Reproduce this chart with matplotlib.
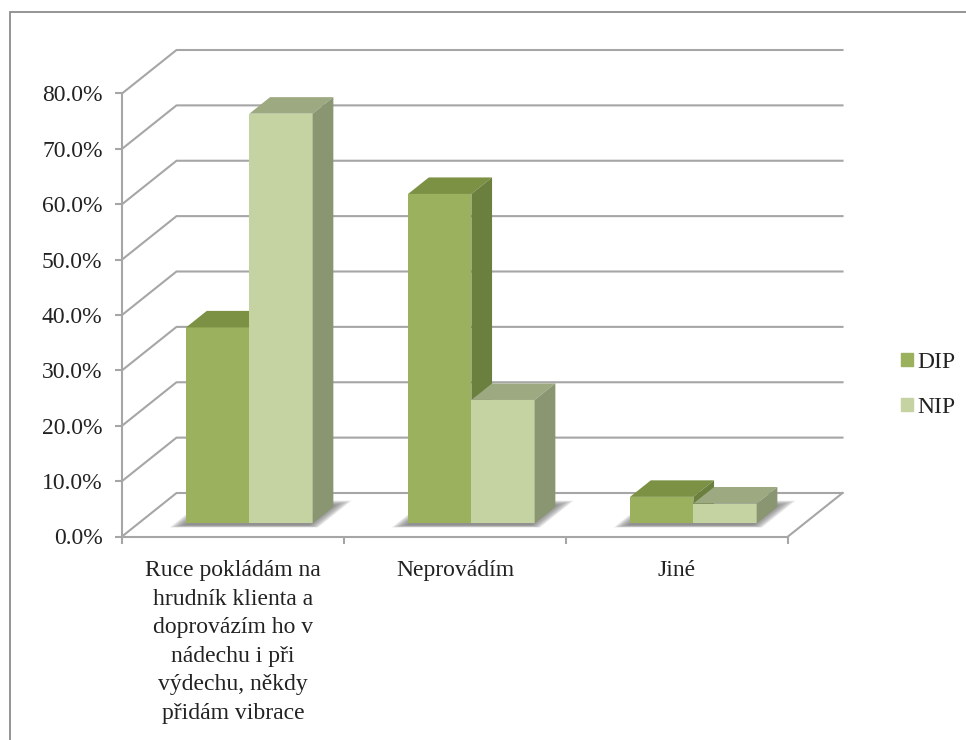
import matplotlib
matplotlib.use("Agg")
import matplotlib.pyplot as plt
from matplotlib.patches import Patch, Rectangle

plt.rcParams['font.family'] = ['Liberation Serif', 'DejaVu Serif']

# data
categories = ["Ruce pokládám na\nhrudník klienta a\ndoprovázím ho v\nnádechu i při\nvýdechu, někdy\npřidám vibrace",
              "Neprovádím", "Jiné"]
dip = [35.4, 59.5, 4.8]
nip = [74.0, 22.3, 3.6]
yticks = [0, 10, 20, 30, 40, 50, 60, 70, 80]

W, H = 966, 740
GRID = '#A6A6A6'
TEXT = '#222222'
FS = 17

fig = plt.figure(figsize=(W / 100, H / 100), dpi=100)
# axes area is the front plane of the chart
ax = fig.add_axes([122 / W, 1 - 536.5 / H, 666 / W, 443 / H])
ax.set_xlim(0, 3)
ax.set_ylim(0, 80)
ax.patch.set_visible(False)

# offset of the back wall in data units
DX = 54.5 / 222
DY = 43.5 * 80 / 443
BAR_W = 63.3 / 222
D0, D1 = 0.30, 0.68


def proj(x, v, d):
    return x + d * DX, v + d * DY


def poly(pts, **kw):
    xs = [p[0] for p in pts]
    ys = [p[1] for p in pts]
    ax.fill(xs, ys, clip_on=False, **kw)


# back wall gridlines and floor
for v in yticks:
    a = proj(0, v, 0)
    b = proj(0, v, 1)
    c = proj(3, v, 1)
    ax.plot([a[0], b[0], c[0]], [a[1], b[1], c[1]], color=GRID, lw=1.5, clip_on=False, zorder=1)
a = proj(3, 0, 0)
b = proj(3, 0, 1)
ax.plot([a[0], b[0]], [a[1], b[1]], color=GRID, lw=1.5, clip_on=False, zorder=1)

# soft shadow under each bar group, built from nested polygons
for i in range(3):
    x0 = i + 0.176
    x1 = i + 0.82
    for k in range(10):
        e = 0.012 - k * 0.006
        pts = [proj(x0 - e, 0, 0.22 - e), proj(x1 + e, 0, 0.22 - e),
               proj(x1 + e, 0, 0.80 + e * 2), proj(x0 - e, 0, 0.80 + e * 2)]
        poly(pts, color='#707070', alpha=0.13, lw=0, zorder=2)


def draw_bar(x, v, front, top, side):
    # x is the left edge of the bar on the front plane
    x2 = x + BAR_W
    ax.bar(x + D0 * DX, v, BAR_W, bottom=D0 * DY, align='edge', color=front, lw=0, clip_on=False, zorder=3)
    poly([proj(x, v, D0), proj(x2, v, D0), proj(x2, v, D1), proj(x, v, D1)], color=top, lw=0, zorder=3)
    poly([proj(x2, 0, D0), proj(x2, v, D0), proj(x2, v, D1), proj(x2, 0, D1)], color=side, lw=0, zorder=3)


for i in range(3):
    draw_bar(i + 0.5 - BAR_W, dip[i], '#9BB15E', '#7C9144', '#6B7F3E')
    draw_bar(i + 0.5, nip[i], '#C5D3A2', '#9CA981', '#8A9672')

# axes
for s in ['top', 'right']:
    ax.spines[s].set_visible(False)
for s in ['left', 'bottom']:
    ax.spines[s].set_color(GRID)
    ax.spines[s].set_linewidth(1.5)
    ax.spines[s].set_zorder(4)

ax.set_yticks(yticks)
ax.set_yticklabels(["%.1f%%" % v for v in yticks], fontsize=FS, color=TEXT)
ax.tick_params(axis='y', length=5, width=1.5, color=GRID, pad=9)
ax.set_xticks([0, 1, 2, 3])
ax.set_xticklabels([])
ax.tick_params(axis='x', which='major', length=5, width=1.5, color=GRID)
ax.set_xticks([0.5, 1.5, 2.5], minor=True)
ax.set_xticklabels(categories, minor=True, fontsize=FS, color=TEXT, linespacing=1.47, ha='center')
ax.tick_params(axis='x', which='minor', length=0, pad=17)

handles = [Patch(color='#9BB15E', label='DIP'), Patch(color='#C5D3A2', label='NIP')]
fig.legend(handles=handles, loc='center left', bbox_to_anchor=(880 / W, 1 - 385 / H), frameon=False,
           fontsize=FS, handlelength=0.5, handleheight=0.5, handletextpad=0.18, labelspacing=1.02,
           labelcolor=TEXT)

# outer chart frame
fig.add_artist(Rectangle((10 / W, -0.1), 1.1, 1 - 12 / H + 0.1, transform=fig.transFigure, fill=False,
                         edgecolor='#8C8C8C', lw=1.3))

fig.savefig('out.png', dpi=100)
